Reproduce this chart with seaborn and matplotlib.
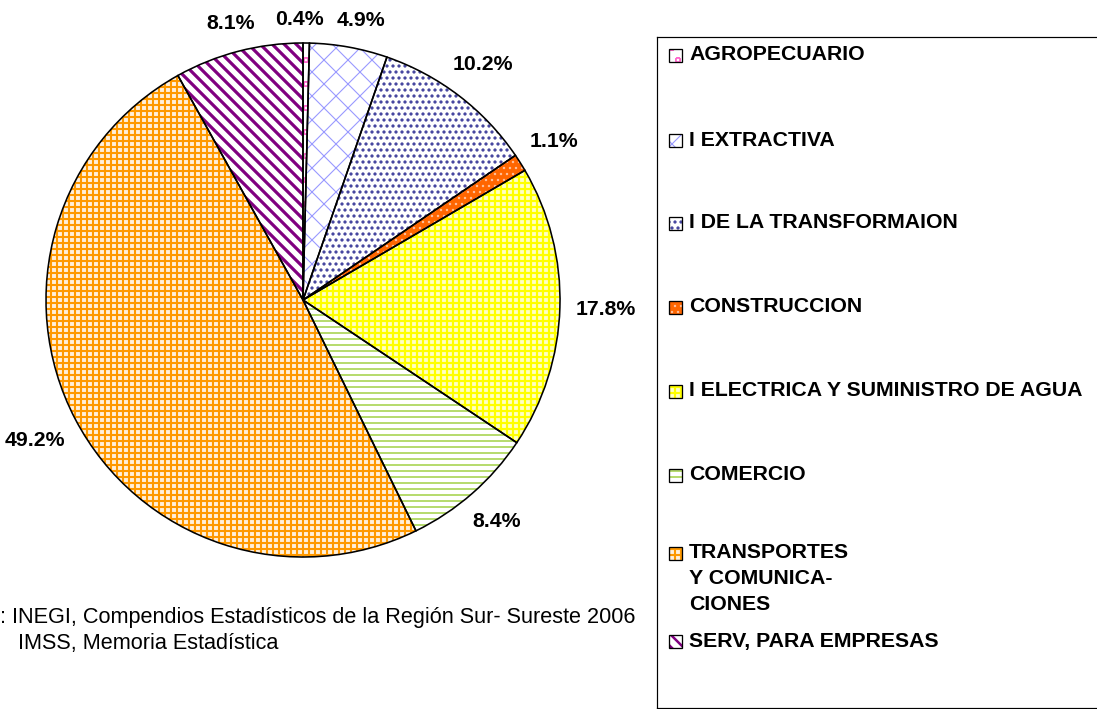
import numpy as np
import matplotlib
matplotlib.use("Agg")
import matplotlib.pyplot as plt
import seaborn as sns
from matplotlib.patches import Rectangle

# ---- data -----------------------------------------------------------------
sectors = [
    "AGROPECUARIO",
    "I EXTRACTIVA",
    "I DE LA TRANSFORMAION",
    "CONSTRUCCION",
    "I ELECTRICA Y SUMINISTRO DE AGUA",
    "COMERCIO",
    "TRANSPORTES\nY COMUNICA-\nCIONES",
    "SERV, PARA EMPRESAS",
]
shares = [0.4, 4.9, 10.2, 1.1, 17.8, 8.4, 49.2, 8.1]
source_lines = [
    ": INEGI, Compendios Estadísticos de la Región Sur- Sureste 2006",
    "IMSS, Memoria Estadística",
]

# ---- fill styles (face, hatch colour, hatch pattern, hatch width) ----------
face_colors = ["#ffffff", "#ffffff", "#ffffff", "#ff6600",
               "#ffffc8", "#ffffff", "#fff0dc", "#ffffff"]
hatch_colors = ["#ff66cc", "#9999ff", "#3a3a99", "#ffc09a",
                "#ffff00", "#99cc33", "#ff9900", "#800080"]
hatches = ["o", "x", "..", "..", "++", "--", "++", "\\\\"]
hatch_widths = [1.2, 1.1, 2.0, 1.2, 2.2, 1.4, 2.1, 3.2]

sns.set_theme(style="white")
plt.rcParams["font.family"] = ["Liberation Sans", "DejaVu Sans"]

# 72 dpi: one point equals one pixel
DPI = 72
W, H = 1097, 709
fig = plt.figure(figsize=(W / DPI, H / DPI), dpi=DPI)
fig.patch.set_facecolor("white")

# ---- pie ----------------------------------------------------------------------
cx, cy, R = 303, 300, 257
ax = fig.add_axes([(cx - R) / W, 1 - (cy + R) / H, 2 * R / W, 2 * R / H])

wedges, _ = ax.pie(shares, startangle=90, counterclock=False,
                   colors=face_colors, wedgeprops=dict(linewidth=0))
for w, hc, hp, hw in zip(wedges, hatch_colors, hatches, hatch_widths):
    w.set_edgecolor(hc)
    w.set_hatch(hp)
    if hasattr(w, "set_hatch_linewidth"):
        w.set_hatch_linewidth(hw)

outlines, _ = ax.pie(shares, startangle=90, counterclock=False,
                     wedgeprops=dict(facecolor="none", edgecolor="black",
                                     linewidth=1.6))
ax.set_xlim(-1, 1)
ax.set_ylim(-1, 1)
ax.set_aspect("equal")
ax.axis("off")

# percentage labels just outside the rim
labels = []
for w, v in zip(wedges, shares):
    t = ax.text(0, 0, f"{v:.1f}%", ha="center", va="center",
                fontsize=21.3, fontweight="bold", color="black")
    t.set_clip_on(False)
    labels.append(t)

fig.canvas.draw()
renderer = fig.canvas.get_renderer()
for w, t in zip(wedges, labels):
    mid = np.deg2rad((w.theta1 + w.theta2) / 2)
    bb = t.get_window_extent(renderer)
    hw, hh = bb.width / 2, bb.height / 2 * 0.8
    rr = 1.06 + (abs(np.cos(mid)) * hw + abs(np.sin(mid)) * hh) / R
    t.set_position((rr * np.cos(mid), rr * np.sin(mid)))

# spread neighbouring labels that collide
gap = 13
for _ in range(3):
    for a, b in zip(labels[:-1], labels[1:]):
        ba = a.get_window_extent(renderer)
        bbx = b.get_window_extent(renderer)
        v_overlap = min(ba.y1, bbx.y1) - max(ba.y0, bbx.y0)
        if v_overlap <= 0:
            continue
        left, right = (a, b) if ba.x0 < bbx.x0 else (b, a)
        bl = left.get_window_extent(renderer)
        br = right.get_window_extent(renderer)
        need = bl.x1 + gap - br.x0
        if need > 0:
            xl, yl = left.get_position()
            xr, yr = right.get_position()
            left.set_position((xl - need / 2 / R, yl))
            right.set_position((xr + need / 2 / R, yr))

# ---- legend box -----------------------------------------------------------------
lx0, ly0, lx1, ly1 = 657, 37, 1130, 708
lax = fig.add_axes([lx0 / W, 1 - ly1 / H, (lx1 - lx0) / W, (ly1 - ly0) / H])
lax.set_xlim(lx0, lx1)
lax.set_ylim(ly1, ly0)
lax.set_xticks([])
lax.set_yticks([])
lax.set_facecolor("white")
for s in lax.spines.values():
    s.set_color("black")
    s.set_linewidth(1.2)

row_y = [55, 140, 223, 307, 391, 475, 553, 641]
line_pitch = 26
for name, yc, fc, hc, hp, hw in zip(sectors, row_y, face_colors,
                                     hatch_colors, hatches, hatch_widths):
    sw = Rectangle((669, yc - 6.5), 13, 13, facecolor=fc, edgecolor=hc,
                   hatch=hp, linewidth=0)
    if hasattr(sw, "set_hatch_linewidth"):
        sw.set_hatch_linewidth(min(hw, 2.5))
    lax.add_patch(sw)
    lax.add_patch(Rectangle((669, yc - 6.5), 13, 13, facecolor="none",
                            edgecolor="black", linewidth=1.3))
    for k, line in enumerate(name.split("\n")):
        lax.text(689, yc + k * line_pitch, line, ha="left", va="center",
                 fontsize=21.3, fontweight="bold", color="black")

# ---- source note --------------------------------------------------------------
fig.text(0 / W, 1 - 617 / H, source_lines[0], ha="left", va="center",
         fontsize=21.6, color="black")
fig.text(18 / W, 1 - 643 / H, source_lines[1], ha="left", va="center",
         fontsize=21.6, color="black")

fig.savefig("out.png", dpi=DPI, facecolor="white")
